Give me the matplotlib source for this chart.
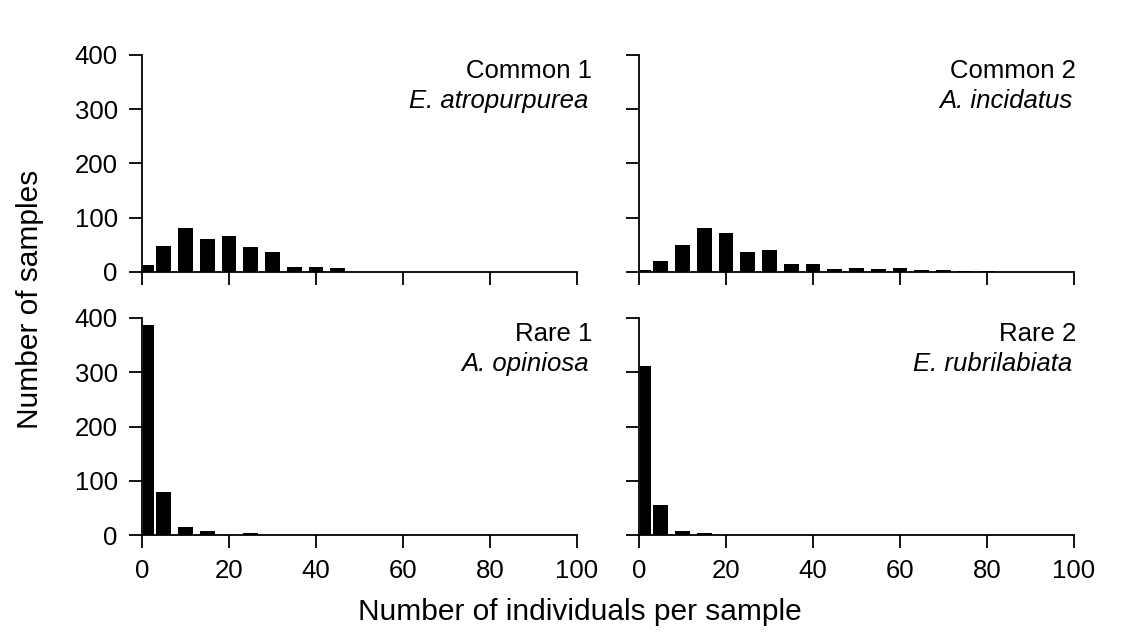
import matplotlib.pyplot as plt
import numpy as np

plt.rcParams['font.family'] = ['Liberation Sans', 'DejaVu Sans']

# bar centres (first class is the 0-2.5 bin)
centres = [1.5, 5, 10, 15, 20, 25, 30, 35, 40, 45, 50, 55, 60, 65, 70, 75, 80]
widths = [2.4] + [3.4] * 16

common1 = [12, 48, 82, 60, 66, 46, 37, 9, 10, 7]
common2 = [4, 21, 50, 81, 72, 37, 40, 15, 15, 5, 7, 6, 8, 4, 4, 2.5, 2.5]
rare1 = [388, 80, 14, 7, 0, 3]
rare2 = [312, 55, 8, 4]

panels = [
    (common1, "Common 1", "E. atropurpurea", [0.1267, 0.573, 0.388, 0.3407], 1.035),
    (common2, "Common 2", "A. incidatus", [0.570, 0.573, 0.388, 0.3407], 1.005),
    (rare1, "Rare 1", "A. opiniosa", [0.1267, 0.1601, 0.388, 0.3407], 1.035),
    (rare2, "Rare 2", "E. rubrilabiata", [0.570, 0.1601, 0.388, 0.3407], 1.005),
]

fig = plt.figure(figsize=(11.21, 6.37), dpi=100)

for i, (vals, title, species, pos, tx) in enumerate(panels):
    ax = fig.add_axes(pos)
    n = len(vals)
    ax.bar(centres[:n], vals, width=widths[:n], color='black', align='center')
    ax.set_xlim(0, 100)
    ax.set_ylim(0, 400)
    ax.set_xticks(np.arange(0, 101, 20))
    ax.set_yticks(np.arange(0, 401, 100))
    for s in ['top', 'right']:
        ax.spines[s].set_visible(False)
    for s in ['left', 'bottom']:
        ax.spines[s].set_linewidth(1.3)
    ax.tick_params(direction='out', length=9.5, width=1.3, labelsize=18.5, pad=8)
    if i < 2:
        ax.tick_params(labelbottom=False)
    if i % 2 == 1:
        ax.tick_params(labelleft=False)
    ax.text(tx, 0.98, title, transform=ax.transAxes, ha='right', va='top', fontsize=18.5)
    ax.text(tx - 0.008, 0.845, species, transform=ax.transAxes, ha='right', va='top',
            fontsize=18.5, style='italic')

fig.text(0.517, 0.04, "Number of individuals per sample", ha='center', va='center', fontsize=21.5)
fig.text(0.027, 0.53, "Number of samples", ha='center', va='center', rotation=90, fontsize=21.5)

fig.savefig("out.png", dpi=100)
